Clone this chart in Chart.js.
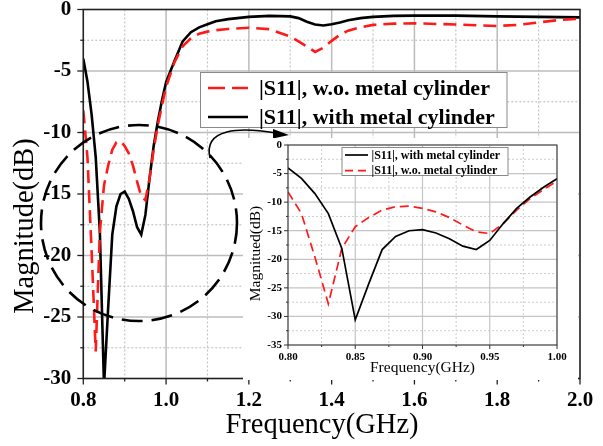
<!DOCTYPE html>
<html><head><meta charset="utf-8">
<script src="https://cdn.jsdelivr.net/npm/chart.js@4"></script>
<style>
html,body{margin:0;padding:0;background:#fff;}
#wrap{position:relative;width:603px;height:446px;overflow:hidden;background:#fff;}
#main{position:absolute;left:0;top:0;}
#inset{position:absolute;left:243px;top:138px;background:#fff;}
</style></head><body>
<div id="wrap">
<canvas id="main" width="603" height="446"></canvas>
<canvas id="inset" width="335" height="242"></canvas>
</div>
<script>
// ---------- data ----------
const seriesNames = ['|S11|, w.o. metal cylinder', '|S11|, with metal cylinder'];
const axisTitlesMain = ['Frequency(GHz)', 'Magnitude(dB)'];
const axisTitlesInset = ['Frequency(GHz)', 'Magnitued(dB)'];

const freqLow = [0.80,0.81,0.82,0.83,0.84,0.85,0.86,0.87,0.88,0.89,0.90,0.91,0.92,0.93,0.94,0.95,0.96,0.97,0.98,0.99,1.00];
const s11WithLow = [-4.0,-5.85,-8.5,-12.0,-18.1,-30.6,-24.3,-18.3,-16.0,-15.0,-14.8,-15.4,-16.4,-17.7,-18.3,-16.7,-13.75,-11.1,-9.1,-7.4,-5.9];
const s11WoLow = [-8.2,-12.0,-19.6,-27.8,-18.1,-14.3,-12.7,-11.4,-10.8,-10.7,-11.1,-11.7,-12.7,-14.0,-15.2,-15.5,-13.75,-11.4,-9.4,-7.8,-6.3];

const freqHigh = [1.02,1.04,1.06,1.08,1.10,1.12,1.15,1.20,1.25,1.30,1.32,1.34,1.36,1.38,1.40,1.42,1.44,1.47,1.50,1.55,1.60,1.70,1.80,1.85,1.90,1.95,2.00];
const s11WithHigh = [-4.2,-2.6,-1.85,-1.45,-1.2,-0.95,-0.78,-0.6,-0.52,-0.56,-0.7,-1.0,-1.22,-1.3,-1.2,-1.05,-0.88,-0.7,-0.6,-0.52,-0.5,-0.5,-0.56,-0.58,-0.6,-0.62,-0.64];
const s11WoHigh = [-4.3,-3.0,-2.35,-1.97,-1.8,-1.68,-1.58,-1.48,-1.6,-2.2,-2.6,-3.0,-3.45,-3.1,-2.55,-2.05,-1.72,-1.45,-1.25,-1.15,-1.12,-1.22,-1.34,-1.25,-1.05,-0.85,-0.75];

const mainXTicks = {min:0.8, max:2.0, step:0.1};
const mainYTicks = {min:-30, max:0, step:2.5};
const insetXTicks = {min:0.80, max:1.00, step:0.025};
const insetYTicks = {min:-35, max:0, step:2.5};

// ---------- helpers ----------
const RED = '#ff1a1a';
const SERIF = "'Liberation Serif','Times New Roman',serif";
const toXY = (xs, ys) => xs.map((x, i) => ({x, y: ys[i]}));

const isMajorMainX = v => Math.abs(Math.round(v * 10)) % 2 === 0;
const isMajorMainY = v => Math.abs(Math.round(v * 2)) % 10 === 0;
const isMajorInsetX = v => Math.abs(Math.round(v * 1000)) % 50 === 0;
const isMajorInsetY = v => Math.abs(Math.round(v * 2)) % 10 === 0;

function makeDecor(o) {
  function drawGrid(chart) {
    const {ctx, chartArea: a} = chart;
    const xs = chart.scales.x, ys = chart.scales.y;
    ctx.save();
    ctx.globalCompositeOperation = 'destination-over';
    xs.ticks.forEach(t => {
      const px = xs.getPixelForValue(t.value);
      const major = o.isMajorX(t.value);
      ctx.strokeStyle = major ? o.gridMajor : o.gridMinor;
      ctx.lineWidth = major ? o.gridWMajor : o.gridWMinor;
      ctx.setLineDash(major ? [] : [2, 2]);
      ctx.beginPath(); ctx.moveTo(px, a.top); ctx.lineTo(px, a.bottom); ctx.stroke();
    });
    ys.ticks.forEach(t => {
      const py = ys.getPixelForValue(t.value);
      const major = o.isMajorY(t.value);
      ctx.strokeStyle = major ? o.gridMajor : o.gridMinor;
      ctx.lineWidth = major ? o.gridWMajor : o.gridWMinor;
      ctx.setLineDash(major ? [] : [2, 2]);
      ctx.beginPath(); ctx.moveTo(a.left, py); ctx.lineTo(a.right, py); ctx.stroke();
    });
    ctx.restore();
  }
  return {
    id: 'decor',
    afterDraw(chart) {
      const {ctx, chartArea: a} = chart;
      const xs = chart.scales.x, ys = chart.scales.y;
      ctx.save();
      ctx.strokeStyle = o.frameColor; ctx.lineWidth = o.frameWidth; ctx.setLineDash([]);
      ctx.strokeRect(a.left, a.top, a.right - a.left, a.bottom - a.top);
      ctx.lineWidth = o.tickWidth; ctx.strokeStyle = o.frameColor;
      xs.ticks.forEach(t => {
        const px = xs.getPixelForValue(t.value);
        const len = o.isMajorX(t.value) ? o.tickMajor : o.tickMinor;
        ctx.beginPath(); ctx.moveTo(px, a.bottom); ctx.lineTo(px, a.bottom + len); ctx.stroke();
      });
      ys.ticks.forEach(t => {
        const py = ys.getPixelForValue(t.value);
        const len = o.isMajorY(t.value) ? o.tickMajor : o.tickMinor;
        ctx.beginPath(); ctx.moveTo(a.left, py); ctx.lineTo(a.left - len, py); ctx.stroke();
      });
      ctx.fillStyle = '#000';
      ctx.font = o.titleFont;
      ctx.textAlign = 'center'; ctx.textBaseline = 'alphabetic';
      ctx.fillText(o.titles[0], o.xTitle.x, o.xTitle.y);
      ctx.save();
      ctx.translate(o.yTitle.x, o.yTitle.y); ctx.rotate(-Math.PI / 2);
      ctx.fillText(o.titles[1], 0, 0);
      ctx.restore();
      if (o.circle) {
        const c = o.circle;
        ctx.strokeStyle = '#000'; ctx.lineWidth = c.w; ctx.setLineDash(c.dash);
        ctx.beginPath(); ctx.arc(c.x, c.y, c.r, 0, Math.PI * 2); ctx.stroke();
        ctx.setLineDash([]);
      }
      if (o.arrow) {
        const r = o.arrow;
        ctx.strokeStyle = '#000'; ctx.fillStyle = '#000'; ctx.lineWidth = r.w;
        ctx.beginPath(); ctx.moveTo(r.p0[0], r.p0[1]);
        ctx.bezierCurveTo(r.c1[0], r.c1[1], r.c2[0], r.c2[1], r.p1[0], r.p1[1]); ctx.stroke();
        ctx.beginPath(); ctx.moveTo(r.tip[0], r.tip[1]);
        ctx.lineTo(r.b1[0], r.b1[1]); ctx.lineTo(r.b2[0], r.b2[1]); ctx.closePath(); ctx.fill();
      }
      const L = o.legend;
      ctx.fillStyle = '#fff'; ctx.fillRect(L.x, L.y, L.w, L.h);
      ctx.strokeStyle = L.border; ctx.lineWidth = 1; ctx.strokeRect(L.x, L.y, L.w, L.h);
      ctx.font = L.font; ctx.textAlign = 'left'; ctx.textBaseline = 'middle';
      L.rows.forEach(row => {
        const ds = chart.data.datasets[row.ds];
        ctx.strokeStyle = ds.borderColor; ctx.lineWidth = L.lineWidth;
        ctx.setLineDash(row.dash);
        ctx.beginPath(); ctx.moveTo(L.sx0, row.y); ctx.lineTo(L.sx1, row.y); ctx.stroke();
        ctx.setLineDash([]);
        ctx.fillStyle = '#000';
        ctx.fillText(ds.label, L.tx, row.y + L.textDy);
      });
      ctx.restore();
      drawGrid(chart);
    }
  };
}

const noPadY = s => { s.paddingTop = 0; s.paddingBottom = 0; };
const noPadX = s => { s.paddingLeft = 0; s.paddingRight = 0; };

// ---------- main chart ----------
new Chart(document.getElementById('main'), {
  type: 'line',
  data: {
    datasets: [
      {label: seriesNames[0], data: toXY(freqLow.concat(freqHigh), s11WoLow.concat(s11WoHigh)),
       borderColor: RED, borderWidth: 2.6, borderDash: [13, 7], pointRadius: 0, tension: 0, fill: false},
      {label: seriesNames[1], data: toXY(freqLow.concat(freqHigh), s11WithLow.concat(s11WithHigh)),
       borderColor: '#000', borderWidth: 2.6, pointRadius: 0, tension: 0, fill: false}
    ]
  },
  options: {
    responsive: false, animation: false, devicePixelRatio: 1,
    layout: {padding: {top: 9.5, right: 23, left: 0, bottom: 0}},
    plugins: {legend: {display: false}, tooltip: {enabled: false}},
    scales: {
      x: {
        type: 'linear', min: mainXTicks.min, max: mainXTicks.max,
        afterFit: s => { s.height = 67.5; noPadX(s); },
        ticks: {stepSize: mainXTicks.step, autoSkip: false, maxRotation: 0, maxTicksLimit: 200, padding: 9,
                color: '#000', font: {family: SERIF, size: 21, weight: 'bold'},
                callback: v => isMajorMainX(v) ? (Math.round(v * 10) / 10).toFixed(1) : ''},
        grid: {display: false, drawTicks: false},
        border: {display: false}
      },
      y: {
        type: 'linear', min: mainYTicks.min, max: mainYTicks.max,
        afterFit: s => { s.width = 83.3; noPadY(s); },
        ticks: {stepSize: mainYTicks.step, autoSkip: false, maxTicksLimit: 200, padding: 12,
                color: '#000', font: {family: SERIF, size: 21, weight: 'bold'},
                callback: v => isMajorMainY(v) ? String(Math.round(v)) : ''},
        grid: {display: false, drawTicks: false},
        border: {display: false}
      }
    }
  },
  plugins: [makeDecor({
    gridMajor: '#bcbcbc', gridMinor: '#c4c4c4', gridWMajor: 1.5, gridWMinor: 1.2,
    frameColor: '#222', frameWidth: 1.5, tickWidth: 1.3, tickMajor: 6, tickMinor: 3,
    isMajorX: isMajorMainX, isMajorY: isMajorMainY,
    titles: axisTitlesMain, titleFont: '28.5px ' + SERIF,
    xTitle: {x: 322, y: 433}, yTitle: {x: 33, y: 226},
    circle: {x: 139, y: 223, r: 98, w: 2.6, dash: [21, 9]},
    arrow: {w: 1.6, p0: [210, 158], c1: [203, 128], c2: [240, 127], p1: [276, 133],
            tip: [289, 135], b1: [273, 129], b2: [273, 138.5]},
    legend: {x: 200.5, y: 72.5, w: 306.5, h: 55, border: '#8a8a8a', font: 'bold 22px ' + SERIF,
             lineWidth: 2.6, sx0: 208, sx1: 248, tx: 259, textDy: 1,
             rows: [{ds: 0, y: 88, dash: [17, 7]}, {ds: 1, y: 117, dash: []}]}
  })]
});

// ---------- inset chart ----------
new Chart(document.getElementById('inset'), {
  type: 'line',
  data: {
    datasets: [
      {label: seriesNames[1], data: toXY(freqLow, s11WithLow),
       borderColor: '#000', borderWidth: 1.7, pointRadius: 0, tension: 0, fill: false},
      {label: seriesNames[0], data: toXY(freqLow, s11WoLow),
       borderColor: RED, borderWidth: 1.7, borderDash: [9, 5], pointRadius: 0, tension: 0, fill: false}
    ]
  },
  options: {
    responsive: false, animation: false, devicePixelRatio: 1,
    layout: {padding: {top: 7, right: 21, left: 0, bottom: 0}},
    plugins: {legend: {display: false}, tooltip: {enabled: false}},
    scales: {
      x: {
        type: 'linear', min: insetXTicks.min, max: insetXTicks.max,
        afterFit: s => { s.height = 35; noPadX(s); },
        ticks: {stepSize: insetXTicks.step, autoSkip: false, maxRotation: 0, maxTicksLimit: 200, padding: 6,
                color: '#000', font: {family: SERIF, size: 11, weight: 'bold'},
                callback: v => isMajorInsetX(v) ? (Math.round(v * 100) / 100).toFixed(2) : ''},
        grid: {display: false, drawTicks: false},
        border: {display: false}
      },
      y: {
        type: 'linear', min: insetYTicks.min, max: insetYTicks.max,
        afterFit: s => { s.width = 45; noPadY(s); },
        ticks: {stepSize: insetYTicks.step, autoSkip: false, maxTicksLimit: 200, padding: 6,
                color: '#000', font: {family: SERIF, size: 11, weight: 'bold'},
                callback: v => isMajorInsetY(v) ? String(Math.round(v)) : ''},
        grid: {display: false, drawTicks: false},
        border: {display: false}
      }
    }
  },
  plugins: [makeDecor({
    gridMajor: '#c4c4c4', gridMinor: '#cccccc', gridWMajor: 1.2, gridWMinor: 1,
    frameColor: '#333', frameWidth: 1, tickWidth: 1, tickMajor: 4, tickMinor: 2,
    isMajorX: isMajorInsetX, isMajorY: isMajorInsetY,
    titles: axisTitlesInset, titleFont: '15.5px ' + SERIF,
    xTitle: {x: 179.5, y: 234}, yTitle: {x: 17, y: 115.5},
    legend: {x: 99, y: 9.5, w: 166, h: 28, border: '#8a8a8a', font: 'bold 12px ' + SERIF,
             lineWidth: 1.7, sx0: 102, sx1: 125, tx: 128.5, textDy: 0.5,
             rows: [{ds: 0, y: 17, dash: []}, {ds: 1, y: 32.7, dash: [8, 5]}]}
  })]
});
</script>
</body></html>
